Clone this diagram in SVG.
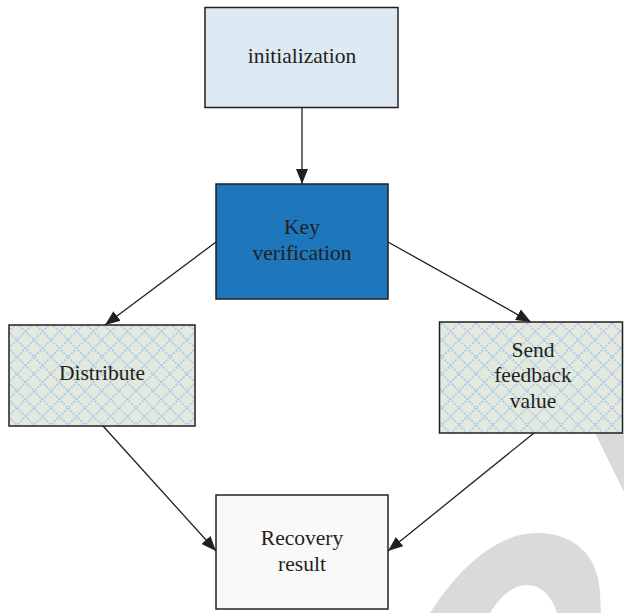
<svg xmlns="http://www.w3.org/2000/svg" width="624" height="613" viewBox="0 0 624 613">
<style>
.box{stroke:#231f20;stroke-width:1.5}
.lbl{font-family:"Liberation Serif","Times New Roman",serif;font-size:21.5px;fill:#231f20;text-anchor:middle}
.edge{stroke:#231f20;stroke-width:1.3;fill:none;marker-end:url(#ah)}
</style>
<defs>
<marker id="ah" markerWidth="16" markerHeight="12" refX="15" refY="6" orient="auto" markerUnits="userSpaceOnUse">
<path d="M0,0 L15,6 L0,12 Z" fill="#231f20"/>
</marker>
<pattern id="lat" width="17" height="17" patternUnits="userSpaceOnUse">
<rect width="17" height="17" fill="#e3e9dc"/>
<path d="M0,0 L17,17 M17,0 L0,17" stroke="#a8c8ec" stroke-width="1.6" stroke-dasharray="2 1.5"/>
</pattern>
</defs>
<path d="M430,613 C462,563 500,533 537,533 C575,533 598,556 600,592 L601,613 L557,613 C552,597 542,585 527,585 C512,585 500,597 490,613 Z" fill="#dadada"/>
<path d="M595,433 L624,433 L624,492 Z" fill="#dadada"/>
<g id="connectors">
<line class="edge" x1="302" y1="108" x2="302" y2="184"/>
<line class="edge" x1="216" y1="242" x2="105" y2="325"/>
<line class="edge" x1="388" y1="242" x2="531" y2="322"/>
<line class="edge" x1="103" y1="426" x2="216" y2="551"/>
<line class="edge" x1="534" y1="433" x2="388" y2="551"/>
</g>
<g id="initialization">
<rect class="box" x="205" y="7.5" width="193" height="100" fill="#dde9f3"/>
<text class="lbl" x="302" y="63">initialization</text>
</g>
<g id="key-verification">
<rect class="box" x="216" y="184" width="172" height="115" fill="#1e77bd"/>
<text class="lbl" x="302" y="234">Key</text>
<text class="lbl" x="302" y="260">verification</text>
</g>
<g id="distribute">
<rect class="box" x="9" y="325" width="186" height="101" fill="url(#lat)"/>
<text class="lbl" x="102" y="380">Distribute</text>
</g>
<g id="send-feedback">
<rect class="box" x="439.5" y="322" width="183" height="111" fill="url(#lat)"/>
<text class="lbl" x="533" y="357">Send</text>
<text class="lbl" x="533" y="382">feedback</text>
<text class="lbl" x="533" y="408">value</text>
</g>
<g id="recovery-result">
<rect class="box" x="216" y="495" width="172" height="114" fill="#f9f9f9"/>
<text class="lbl" x="302" y="545">Recovery</text>
<text class="lbl" x="302" y="571">result</text>
</g>
</svg>
